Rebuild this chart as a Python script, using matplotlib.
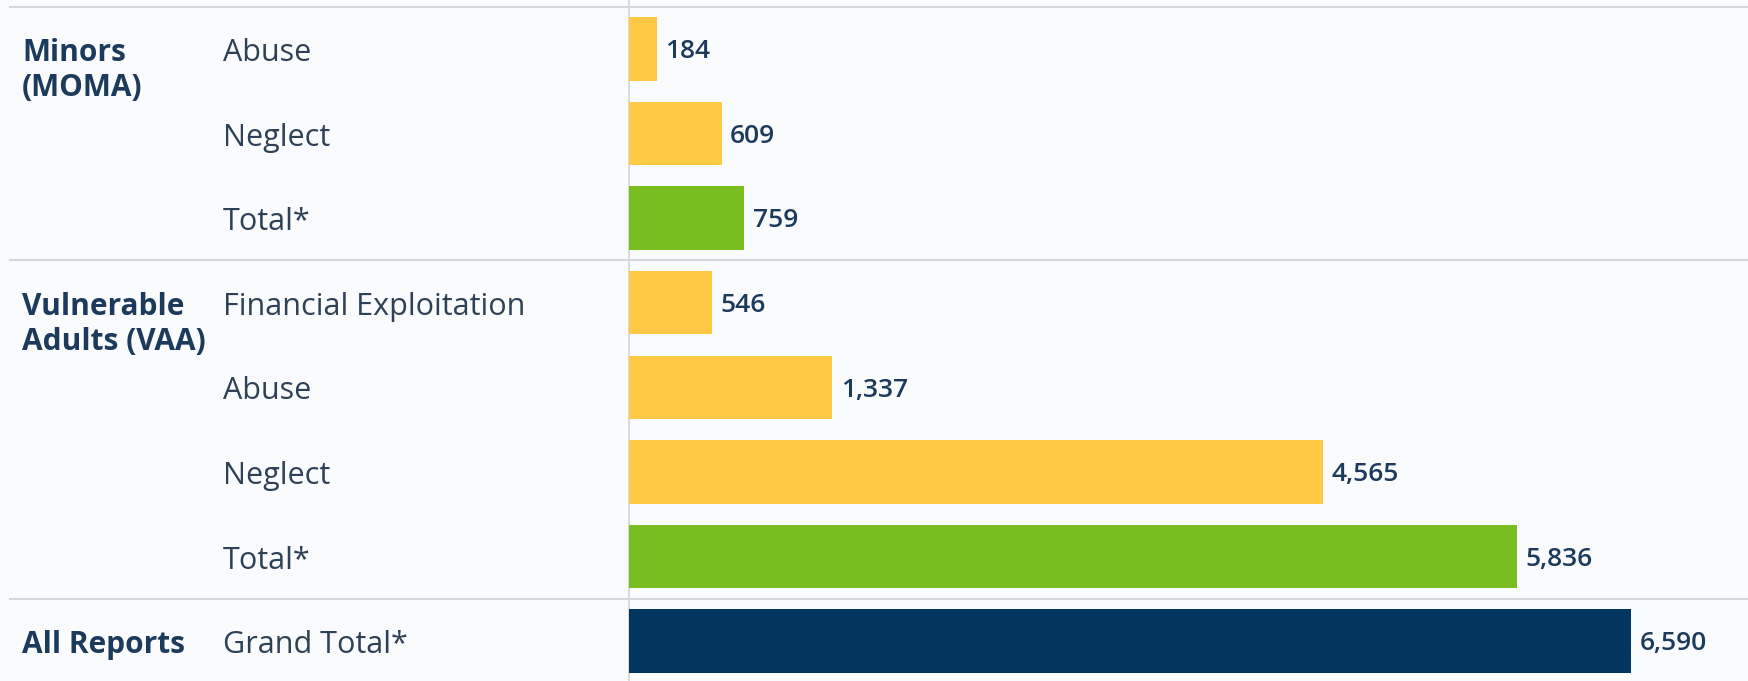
import matplotlib.pyplot as plt
import matplotlib.transforms as mtransforms

# data
groups = ['Minors\n(MOMA)', 'Vulnerable\nAdults (VAA)', 'All Reports']
group_sizes = [3, 4, 1]
labels = ['Abuse', 'Neglect', 'Total*',
          'Financial Exploitation', 'Abuse', 'Neglect', 'Total*',
          'Grand Total*']
values = [184, 609, 759, 546, 1337, 4565, 5836, 6590]
kinds = ['sub', 'sub', 'total', 'sub', 'sub', 'sub', 'total', 'grand']

colors = {'sub': '#ffc845', 'total': '#78be20', 'grand': '#003660'}
bg = '#fafbfc'
text_col = '#2e4156'
head_col = '#1b3a5c'

W, H = 1748, 681
fig = plt.figure(figsize=(W / 100, H / 100), dpi=100, facecolor=bg)
ax = fig.add_axes([0, 0, 1, 1], facecolor=bg)

ypos = list(range(len(values)))
ax.barh(ypos, values, height=0.75, color=[colors[k] for k in kinds], zorder=2)

# value labels
for y, v in zip(ypos, values):
    ax.annotate(f'{v:,}', (v, y), xytext=(6, -2), textcoords='offset points',
                va='center', ha='left', fontsize=19, color=head_col,
                fontfamily='Open Sans', fontweight='semibold')

# scale: baseline at x=629px, 6590 ends at ~1631px
ax.set_xlim(-4135, 7357)
ax.set_ylim(7.473, -0.579)
ax.axis('off')

blend = mtransforms.blended_transform_factory(ax.transAxes, ax.transData)

for y, lab in zip(ypos, labels):
    ax.annotate(lab, (223 / W, y), xycoords=blend, xytext=(0, -3),
                textcoords='offset points', va='center', ha='left',
                fontsize=22, color=text_col, fontfamily='Open Sans')

start = 0
for g, n in zip(groups, group_sizes):
    for i, line in enumerate(g.split('\n')):
        ax.annotate(line, (22 / W, start), xycoords=blend,
                    xytext=(0, -3 - 25 * i), textcoords='offset points',
                    va='center', ha='left', fontsize=21.5, color=head_col,
                    fontfamily='Open Sans', fontweight='bold')
    start += n

# separators
ax.axhline(-0.5, xmin=10 / W, xmax=1, color='#d3d6da', lw=1.5, zorder=1)
edge = -0.5
for n in group_sizes[:-1]:
    edge += n
    ax.axhline(edge, xmin=10 / W, xmax=1, color='#d3d6da', lw=1.5, zorder=1)
ax.axvline(0, color='#d3d6da', lw=1.2, zorder=1)

fig.savefig('out.png', dpi=100, facecolor=bg)
